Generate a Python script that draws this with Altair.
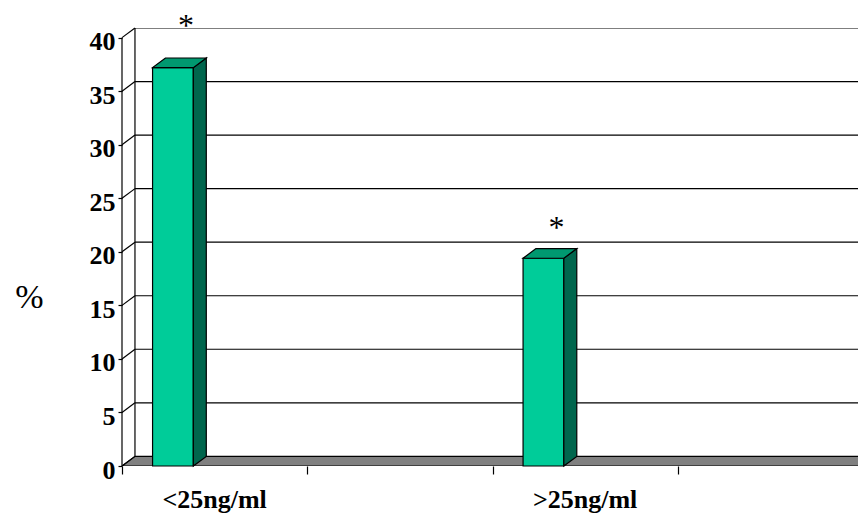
import altair as alt
import pandas as pd

# ---- data ----
categories = ["<25ng/ml", ">25ng/ml"]
values = [37.2, 19.4]
slots = [0, 2]                 # slot of each category on the 4-slot category axis
star_levels = [41.1, 22.2]     # height of the "*" significance marks
y_ticks = [0, 5, 10, 15, 20, 25, 30, 35, 40]
x_ticks = [0, 1, 2, 3, 4]
grid_levels = [5, 10, 15, 20, 25, 30, 35, 40]

# ---- 3D look parameters (styling) ----
DX = 0.07      # depth shift in x units
DY = 0.9       # depth shift in y units
BAR_L, BAR_R = 0.165, 0.385
X_END = 4.0
XDOM = [0, 3.973]
YDOM = [0, 40.9]
W, H = 736, 438
FONT = "Liberation Serif"

xs = alt.Scale(domain=XDOM, nice=False, zero=False)
ys = alt.Scale(domain=YDOM, nice=False, zero=False)

y_axis = alt.Axis(values=y_ticks, title="%", titleAngle=0, titleX=-93, titleY=269,
                  titleAlign="center", titleBaseline="middle", titleFont=FONT,
                  titleFontSize=34, titleFontWeight="normal", titleColor="black",
                  labelFont=FONT, labelFontSize=26, labelFontWeight="bold",
                  labelColor="black", labelPadding=3, labelOffset=4,
                  tickColor="black", tickSize=4, tickWidth=1.2,
                  domain=False, grid=False)
x_axis = alt.Axis(values=x_ticks, labels=False, title=None, tickColor="black",
                  tickSize=8, tickWidth=1.2, domain=False, grid=False)


def X(field):
    return alt.X(field, scale=xs, axis=x_axis)


def Y(field):
    return alt.Y(field, scale=ys, axis=y_axis)


# floor (gray slab)
floor_df = pd.DataFrame({"y": [0, DY], "x": [0, DX], "x2": [X_END, X_END + DX]})
floor = alt.Chart(floor_df).mark_area(
    orient="horizontal", fill="#808080", stroke="black", strokeWidth=1.2, clip=True
).encode(y=Y("y:Q"), x=X("x:Q"), x2="x2:Q")

# back-wall gridlines
grid_df = pd.DataFrame({"y": [g + DY for g in grid_levels]})
grid_df["x"] = DX
grid_df["x2"] = X_END + DX
grid = alt.Chart(grid_df).mark_rule(color="black", strokeWidth=1.2, clip=True).encode(
    x=X("x:Q"), x2="x2:Q", y=Y("y:Q"),
)

# side-wall diagonals from the front axis to the back wall
diag_df = pd.DataFrame({"y": y_ticks})
diag_df["y2"] = diag_df["y"] + DY
diag_df["x"] = 0.0
diag_df["x2"] = DX
diag = alt.Chart(diag_df).mark_rule(color="black", strokeWidth=1.2).encode(
    x=X("x:Q"), x2="x2:Q", y=Y("y:Q"), y2="y2:Q",
)

# back-wall left edge and front value axis line
edges_df = pd.DataFrame({"x": [DX, 0.0], "y": [DY, 0], "y2": [y_ticks[-1] + DY, y_ticks[-1]]})
edges = alt.Chart(edges_df).mark_rule(color="black", strokeWidth=1.2).encode(
    x=X("x:Q"), y=Y("y:Q"), y2="y2:Q",
)

# bars: front face
bars_df = pd.DataFrame({"cat": categories, "value": values, "slot": slots})
bars_df["xl"] = bars_df["slot"] + BAR_L
bars_df["xr"] = bars_df["slot"] + BAR_R
bars_df["zero"] = 0.0
front = alt.Chart(bars_df).mark_rect(fill="#00CC99", stroke="black", strokeWidth=1.2).encode(
    x=X("xl:Q"), x2="xr:Q", y=Y("zero:Q"), y2="value:Q",
)

# bars: side face
side_rows = []
for c, v, s in zip(categories, values, slots):
    side_rows.append({"cat": c, "x": s + BAR_R, "top": v, "bot": 0.0})
    side_rows.append({"cat": c, "x": s + BAR_R + DX, "top": v + DY, "bot": DY})
side = alt.Chart(pd.DataFrame(side_rows)).mark_area(
    orient="vertical", fill="#00664D", stroke="black", strokeWidth=1.2
).encode(x=X("x:Q"), y=Y("top:Q"), y2="bot:Q", detail="cat:N")

# bars: top face
top_rows = []
for c, v, s in zip(categories, values, slots):
    top_rows.append({"cat": c, "y": v, "xl": s + BAR_L, "xr": s + BAR_R})
    top_rows.append({"cat": c, "y": v + DY, "xl": s + BAR_L + DX, "xr": s + BAR_R + DX})
top = alt.Chart(pd.DataFrame(top_rows)).mark_area(
    orient="horizontal", fill="#009970", stroke="black", strokeWidth=1.2
).encode(y=Y("y:Q"), x=X("xl:Q"), x2="xr:Q", detail="cat:N")

# significance stars
stars_df = pd.DataFrame({"x": [s + (BAR_L + BAR_R) / 2 + DX for s in slots],
                         "y": star_levels, "t": ["*", "*"]})
stars = alt.Chart(stars_df).mark_text(
    font=FONT, fontSize=32, baseline="middle", align="center", color="black"
).encode(x=X("x:Q"), y=Y("y:Q"), text="t:N")

# category labels
lab_df = pd.DataFrame({"x": [s + 0.5 for s in slots], "y": [0.0, 0.0], "t": categories})
labels = alt.Chart(lab_df).mark_text(
    font=FONT, fontSize=26, fontWeight="bold", baseline="middle", align="center",
    dy=34, color="black"
).encode(x=X("x:Q"), y=Y("y:Q"), text="t:N")

chart = alt.layer(floor, grid, diag, edges, front, side, top, stars, labels).properties(
    width=W, height=H,
    autosize=alt.AutoSizeParams(type="none"),
    padding={"left": 114, "top": 20, "right": 0, "bottom": 50},
    background="white",
).configure_view(stroke=None)

chart.save("out.html", embed_options={"renderer": "svg", "actions": False})
